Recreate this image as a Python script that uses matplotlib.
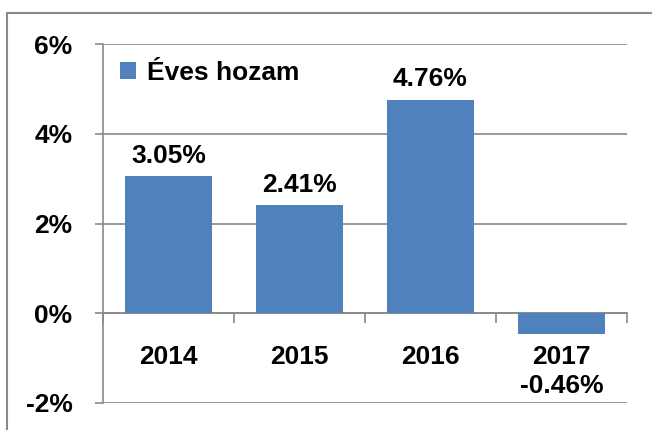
import matplotlib
matplotlib.use("Agg")
import matplotlib.pyplot as plt
from matplotlib.patches import Rectangle
import numpy as np

years = ["2014", "2015", "2016", "2017"]
values = [3.05, 2.41, 4.76, -0.46]
value_labels = ["3.05%", "2.41%", "4.76%", "-0.46%"]
yticks = [-2, 0, 2, 4, 6]
ytick_labels = ["-2%", "0%", "2%", "4%", "6%"]
series_name = "Éves hozam"

plt.rcParams['font.family'] = ['Liberation Sans', 'DejaVu Sans']
plt.rcParams['font.weight'] = 'bold'

FS = 19
W, H = 652, 430
fig = plt.figure(figsize=(W/100, H/100), dpi=100)
ax = fig.add_axes([103/W, 1 - 403/H, (627-103)/W, (403-44)/H])

bar_color = "#4F81BD"
grid_color = "#898989"
x = np.arange(len(years))
bars = ax.bar(x, values, width=0.66, color=bar_color, label=series_name, zorder=3)

ax.set_xlim(-0.5, len(years) - 0.5)
ax.set_ylim(-2, 6)
ax.set_yticks(yticks)
ax.set_yticklabels(ytick_labels, fontsize=FS, fontweight='bold')
ax.yaxis.grid(True, color=grid_color, linewidth=1.2, zorder=0)
ax.tick_params(axis='y', direction='out', length=6, color=grid_color, width=1.2, pad=16)

for s in ['top', 'right']:
    ax.spines[s].set_visible(False)
ax.spines['left'].set_color(grid_color)
ax.spines['left'].set_linewidth(1.2)
ax.spines['bottom'].set_position(('data', 0))
ax.spines['bottom'].set_color(grid_color)
ax.spines['bottom'].set_linewidth(1.2)

ax.set_xticks(x)
ax.set_xticklabels(years, fontsize=FS, fontweight='bold')
ax.set_xticks(np.arange(len(years) + 1) - 0.5, minor=True)
ax.tick_params(axis='x', which='major', length=0, pad=23)
ax.tick_params(axis='x', which='minor', length=7, color=grid_color, width=1.2, direction='out')

for rect, v, lab in zip(bars, values, value_labels):
    cx = rect.get_x() + rect.get_width() / 2
    if v >= 0:
        ax.annotate(lab, (cx, v), xytext=(0, 6), textcoords='offset points',
                    ha='center', va='bottom', fontsize=FS, fontweight='bold', zorder=5)
    else:
        ax.annotate(lab, (cx, v), xytext=(0, -29), textcoords='offset points',
                    ha='center', va='top', fontsize=FS, fontweight='bold', zorder=5)

leg = ax.legend(loc='upper left', bbox_to_anchor=(0.0, 1.0), frameon=False,
                prop={'size': FS, 'weight': 'bold'}, handlelength=0.6, handleheight=0.6,
                handletextpad=0.4, borderaxespad=0.25)

fig.patches.append(Rectangle((7/W, -0.1), 1.2, (1 - 13/H) + 0.1, transform=fig.transFigure,
                             fill=False, edgecolor=grid_color, linewidth=1.5))

fig.savefig("out.png", dpi=100)
